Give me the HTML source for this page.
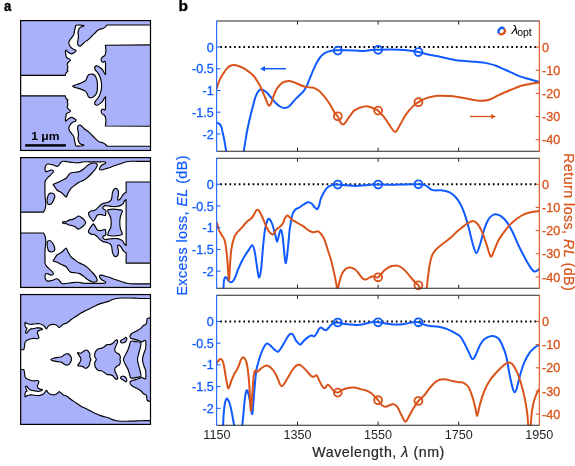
<!DOCTYPE html>
<html><head><meta charset="utf-8"><style>
html,body{margin:0;padding:0;background:#fff;}
svg{display:block;filter:blur(0.3px);font-family:"Liberation Sans",sans-serif;}
</style></head><body>
<svg width="575" height="466" viewBox="0 0 575 466">
<rect width="575" height="466" fill="#fff"/>
<text transform="translate(4.0,11.2) scale(0.92,1)" font-size="14.3" font-weight="bold" fill="#000" stroke="#000" stroke-width="0.35">a</text>
<text x="178.4" y="11.4" font-size="15.5" font-weight="bold" fill="#000" stroke="#000" stroke-width="0.35">b</text>
<defs><clipPath id="bx0"><rect x="20.65" y="20.6" width="129.85" height="129.85"/></clipPath><clipPath id="bx1"><rect x="20.65" y="157.6" width="129.85" height="129.85"/></clipPath><clipPath id="bx2"><rect x="20.65" y="294.55" width="129.85" height="129.85"/></clipPath></defs>
<g clip-path="url(#bx0)">
<rect x="20.65" y="20.6" width="129.85" height="129.85" fill="#a9b1fa"/>
<path d="M19.5,75.4L65.3,75.4C65.3,75.4 65.57,73.72 66,73C66.43,72.28 67.7,71.63 67.9,71.1C68.1,70.57 67.2,70.45 67.2,69.8C67.2,69.15 67.9,68.17 67.9,67.2C67.9,66.23 67.1,64.85 67.2,64C67.3,63.15 67.95,62.73 68.5,62.1C69.05,61.47 70.38,60.73 70.5,60.2C70.62,59.67 69.85,59.33 69.2,58.9C68.55,58.47 67.15,58.28 66.6,57.6C66.05,56.92 66.1,55.85 65.9,54.8C65.7,53.75 65.4,52.1 65.4,51.3C65.4,50.5 65.6,50 65.9,50C66.2,50 66.63,50.8 67.2,51.3C67.77,51.8 68.58,52.57 69.3,53C70.02,53.43 70.77,53.9 71.5,53.9C72.23,53.9 72.97,53.43 73.7,53C74.43,52.57 75.62,51.8 75.9,51.3C76.18,50.8 75.98,50.43 75.4,50C74.82,49.57 73.27,49.28 72.4,48.7C71.53,48.12 70.78,47.37 70.2,46.5C69.62,45.63 69.05,44.43 68.9,43.5C68.75,42.57 68.87,41.85 69.3,40.9C69.73,39.95 70.77,38.82 71.5,37.8C72.23,36.78 73.18,36.03 73.7,34.8C74.22,33.57 74.32,31.7 74.6,30.4C74.88,29.1 75.12,27.87 75.4,27C75.68,26.13 75.07,25.47 76.3,25.2C77.53,24.93 81.57,25.25 82.8,25.4C84.03,25.55 83.98,25.83 83.7,26.1C83.42,26.37 81.83,26.63 81.1,27C80.37,27.37 79.73,27.73 79.3,28.3C78.87,28.87 78.72,29.62 78.5,30.4C78.28,31.18 78,31.98 78,33C78,34.02 78.5,35.33 78.5,36.5C78.5,37.67 78.15,38.83 78,40C77.85,41.17 77.52,42.55 77.6,43.5C77.68,44.45 78.07,45.27 78.5,45.7C78.93,46.13 79.62,46.25 80.2,46.1C80.78,45.95 81.42,45.32 82,44.8C82.58,44.28 82.98,43.65 83.7,43C84.42,42.35 85.43,41.55 86.3,40.9C87.17,40.25 88.03,39.83 88.9,39.1C89.77,38.37 90.63,37.37 91.5,36.5C92.37,35.63 93.23,34.77 94.1,33.9C94.97,33.03 95.78,32.07 96.7,31.3C97.62,30.53 98.57,29.77 99.6,29.3C100.63,28.83 101.95,28.9 102.9,28.5C103.85,28.1 104.63,27.48 105.3,26.9C105.97,26.32 106.9,25 106.9,25L151.6,25L151.6,44.9L105.3,45.2C105.3,45.2 105.5,45.87 105.6,46.7C105.7,47.53 105.92,49.05 105.9,50.2C105.88,51.35 105.72,52.68 105.5,53.6C105.28,54.52 105.1,55.13 104.6,55.7C104.1,56.27 103.07,56.42 102.5,57C101.93,57.58 101.35,58.48 101.2,59.2C101.05,59.92 101.32,60.8 101.6,61.3C101.88,61.8 102.33,62.2 102.9,62.2C103.47,62.2 104.57,61.02 105,61.3C105.43,61.58 105.42,62.9 105.5,63.9C105.58,64.9 105.5,66.15 105.5,67.3C105.5,68.45 105.48,69.62 105.5,70.8C105.52,71.98 105.6,74.4 105.6,74.4C105.6,74.4 104.75,73.88 104.3,73.2C103.85,72.52 103.57,71.2 102.9,70.3C102.23,69.4 101.23,68.52 100.3,67.8C99.37,67.08 98.15,66.22 97.3,66C96.45,65.78 95.63,66.07 95.2,66.5C94.77,66.93 94.57,67.88 94.7,68.6C94.83,69.32 95.42,70 96,70.8C96.58,71.6 97.55,72.4 98.2,73.4C98.85,74.4 99.4,75.52 99.9,76.8C100.4,78.08 100.92,79.63 101.2,81.1C101.48,82.57 101.6,84.1 101.6,85.6C101.6,87.1 101.48,88.63 101.2,90.1C100.92,91.57 100.4,93.12 99.9,94.4C99.4,95.68 98.85,96.8 98.2,97.8C97.55,98.8 96.58,99.6 96,100.4C95.42,101.2 94.83,101.88 94.7,102.6C94.57,103.32 94.77,104.27 95.2,104.7C95.63,105.13 96.45,105.42 97.3,105.2C98.15,104.98 99.37,104.12 100.3,103.4C101.23,102.68 102.23,101.8 102.9,100.9C103.57,100 103.85,98.68 104.3,98C104.75,97.32 105.6,96.8 105.6,96.8C105.6,96.8 105.52,99.22 105.5,100.4C105.48,101.58 105.5,102.75 105.5,103.9C105.5,105.05 105.58,106.3 105.5,107.3C105.42,108.3 105.43,109.62 105,109.9C104.57,110.18 103.47,109 102.9,109C102.33,109 101.88,109.4 101.6,109.9C101.32,110.4 101.05,111.28 101.2,112C101.35,112.72 101.93,113.62 102.5,114.2C103.07,114.78 104.1,114.93 104.6,115.5C105.1,116.07 105.28,116.68 105.5,117.6C105.72,118.52 105.88,119.85 105.9,121C105.92,122.15 105.7,123.67 105.6,124.5C105.5,125.33 105.3,126 105.3,126L151.6,126.3L151.6,146.2L106.9,146.2C106.9,146.2 105.97,144.88 105.3,144.3C104.63,143.72 103.85,143.1 102.9,142.7C101.95,142.3 100.63,142.37 99.6,141.9C98.57,141.43 97.62,140.67 96.7,139.9C95.78,139.13 94.97,138.17 94.1,137.3C93.23,136.43 92.37,135.57 91.5,134.7C90.63,133.83 89.77,132.83 88.9,132.1C88.03,131.37 87.17,130.95 86.3,130.3C85.43,129.65 84.42,128.85 83.7,128.2C82.98,127.55 82.58,126.92 82,126.4C81.42,125.88 80.78,125.25 80.2,125.1C79.62,124.95 78.93,125.07 78.5,125.5C78.07,125.93 77.68,126.75 77.6,127.7C77.52,128.65 77.85,130.03 78,131.2C78.15,132.37 78.5,133.53 78.5,134.7C78.5,135.87 78,137.18 78,138.2C78,139.22 78.28,140.02 78.5,140.8C78.72,141.58 78.87,142.33 79.3,142.9C79.73,143.47 80.37,143.83 81.1,144.2C81.83,144.57 83.42,144.83 83.7,145.1C83.98,145.37 84.03,145.65 82.8,145.8C81.57,145.95 77.53,146.27 76.3,146C75.07,145.73 75.68,145.07 75.4,144.2C75.12,143.33 74.88,142.1 74.6,140.8C74.32,139.5 74.22,137.63 73.7,136.4C73.18,135.17 72.23,134.42 71.5,133.4C70.77,132.38 69.73,131.25 69.3,130.3C68.87,129.35 68.75,128.63 68.9,127.7C69.05,126.77 69.62,125.57 70.2,124.7C70.78,123.83 71.53,123.08 72.4,122.5C73.27,121.92 74.82,121.63 75.4,121.2C75.98,120.77 76.18,120.4 75.9,119.9C75.62,119.4 74.43,118.63 73.7,118.2C72.97,117.77 72.23,117.3 71.5,117.3C70.77,117.3 70.02,117.77 69.3,118.2C68.58,118.63 67.77,119.4 67.2,119.9C66.63,120.4 66.2,121.2 65.9,121.2C65.6,121.2 65.4,120.7 65.4,119.9C65.4,119.1 65.7,117.45 65.9,116.4C66.1,115.35 66.05,114.28 66.6,113.6C67.15,112.92 68.55,112.73 69.2,112.3C69.85,111.87 70.62,111.53 70.5,111C70.38,110.47 69.05,109.73 68.5,109.1C67.95,108.47 67.3,108.05 67.2,107.2C67.1,106.35 67.9,104.97 67.9,104C67.9,103.03 67.2,102.05 67.2,101.4C67.2,100.75 68.1,100.63 67.9,100.1C67.7,99.57 66.43,98.92 66,98.2C65.57,97.48 65.3,95.8 65.3,95.8L19.5,95.8L19.5,75.4Z" fill="#fff" stroke="#000" stroke-width="1.15" stroke-linejoin="round"/>
<path d="M73,85.9C73.65,85.47 75.98,84.9 77.6,84.3C79.22,83.7 81.32,83 82.7,82.3C84.08,81.6 85.15,81 85.9,80.1C86.65,79.2 86.67,77.82 87.2,76.9C87.73,75.98 88.23,75.07 89.1,74.6C89.97,74.13 91.42,73.93 92.4,74.1C93.38,74.27 94.25,74.6 95,75.6C95.75,76.6 96.48,78.38 96.9,80.1C97.32,81.82 97.5,83.85 97.5,85.9C97.5,87.95 97.43,90.68 96.9,92.4C96.37,94.12 95.27,95.3 94.3,96.2C93.33,97.1 92.07,97.68 91.1,97.8C90.13,97.92 89.15,97.58 88.5,96.9C87.85,96.22 87.73,94.67 87.2,93.7C86.67,92.73 86.37,91.87 85.3,91.1C84.23,90.33 82.3,89.67 80.8,89.1C79.3,88.53 77.48,88.07 76.3,87.7C75.12,87.33 74.25,87.2 73.7,86.9C73.15,86.6 72.35,86.33 73,85.9Z" fill="#a9b1fa" stroke="#000" stroke-width="1.15" stroke-linejoin="round"/>
</g>
<rect x="20.65" y="20.6" width="129.85" height="129.85" fill="none" stroke="#000" stroke-width="1.2"/>
<rect x="25.2" y="144.2" width="40.7" height="2.4" fill="#000"/>
<text transform="translate(31.2,139.9) scale(1.12,1)" font-size="10.8" font-weight="bold" fill="#000">1 μm</text>
<g clip-path="url(#bx1)">
<rect x="20.65" y="157.6" width="129.85" height="129.85" fill="#fff"/>
<path d="M19.5,156.5L151.5,156.5L151.5,161.3C151.5,161.3 145.5,161.3 143.1,161.3C140.7,161.3 139.1,161.3 137.1,161.3C135.1,161.3 132.85,161.22 131.1,161.3C129.35,161.38 128.12,161.47 126.6,161.8C125.08,162.13 123.52,162.8 122,163.3C120.48,163.8 119,164.3 117.5,164.8C116,165.3 114.37,165.8 113,166.3C111.63,166.8 110.55,167.38 109.3,167.8C108.05,168.22 106.75,168.43 105.5,168.8C104.25,169.17 102.8,169.92 101.8,170C100.8,170.08 99.75,169.8 99.5,169.3C99.25,168.8 99.8,167.75 100.3,167C100.8,166.25 101.63,165.42 102.5,164.8C103.37,164.18 105.12,163.8 105.5,163.3C105.88,162.8 105.55,162.05 104.8,161.8C104.05,161.55 102.63,161.8 101,161.8C99.37,161.8 97,161.8 95,161.8C93,161.8 90.82,161.8 89,161.8C87.18,161.8 85.92,161.63 84.1,161.8C82.28,161.97 80.1,162.68 78.1,162.8C76.1,162.92 73.85,162.67 72.1,162.5C70.35,162.33 69.1,162 67.6,161.8C66.1,161.6 64.23,161.18 63.1,161.3C61.97,161.42 61.55,161.8 60.8,162.5C60.05,163.2 59.35,164.87 58.6,165.5C57.85,166.13 57.3,166.42 56.3,166.3C55.3,166.18 53.98,165.18 52.6,164.8C51.22,164.42 49.13,163.88 48,164C46.87,164.12 46.3,164.75 45.8,165.5C45.3,166.25 45,167.5 45,168.5C45,169.5 45.3,171.05 45.8,171.5C46.3,171.95 47.13,171.45 48,171.2C48.87,170.95 50.12,170.07 51,170C51.88,169.93 53.03,170.3 53.3,170.8C53.57,171.3 53.23,172.13 52.6,173C51.97,173.87 50.52,175 49.5,176C48.48,177 47.25,178 46.5,179C45.75,180 45.25,181 45,182C44.75,183 45,182.98 45,185C45,187.02 44.92,191.58 45,194.1C45.08,196.62 45.37,198.35 45.5,200.1C45.63,201.85 45.88,203.1 45.8,204.6C45.72,206.1 45.38,207.85 45,209.1C44.62,210.35 43.5,212.1 43.5,212.1L19.5,212.1L19.5,156.5Z" fill="#a9b1fa" stroke="#000" stroke-width="1.15" stroke-linejoin="round"/>
<path d="M19.5,288.6L151.5,288.6L151.5,283.8C151.5,283.8 145.5,283.8 143.1,283.8C140.7,283.8 139.1,283.8 137.1,283.8C135.1,283.8 132.85,283.88 131.1,283.8C129.35,283.72 128.12,283.63 126.6,283.3C125.08,282.97 123.52,282.3 122,281.8C120.48,281.3 119,280.8 117.5,280.3C116,279.8 114.37,279.3 113,278.8C111.63,278.3 110.55,277.72 109.3,277.3C108.05,276.88 106.75,276.67 105.5,276.3C104.25,275.93 102.8,275.18 101.8,275.1C100.8,275.02 99.75,275.3 99.5,275.8C99.25,276.3 99.8,277.35 100.3,278.1C100.8,278.85 101.63,279.68 102.5,280.3C103.37,280.92 105.12,281.3 105.5,281.8C105.88,282.3 105.55,283.05 104.8,283.3C104.05,283.55 102.63,283.3 101,283.3C99.37,283.3 97,283.3 95,283.3C93,283.3 90.82,283.3 89,283.3C87.18,283.3 85.92,283.47 84.1,283.3C82.28,283.13 80.1,282.42 78.1,282.3C76.1,282.18 73.85,282.43 72.1,282.6C70.35,282.77 69.1,283.1 67.6,283.3C66.1,283.5 64.23,283.92 63.1,283.8C61.97,283.68 61.55,283.3 60.8,282.6C60.05,281.9 59.35,280.23 58.6,279.6C57.85,278.97 57.3,278.68 56.3,278.8C55.3,278.92 53.98,279.92 52.6,280.3C51.22,280.68 49.13,281.22 48,281.1C46.87,280.98 46.3,280.35 45.8,279.6C45.3,278.85 45,277.6 45,276.6C45,275.6 45.3,274.05 45.8,273.6C46.3,273.15 47.13,273.65 48,273.9C48.87,274.15 50.12,275.03 51,275.1C51.88,275.17 53.03,274.8 53.3,274.3C53.57,273.8 53.23,272.97 52.6,272.1C51.97,271.23 50.52,270.1 49.5,269.1C48.48,268.1 47.25,267.1 46.5,266.1C45.75,265.1 45.25,264.1 45,263.1C44.75,262.1 45,262.12 45,260.1C45,258.08 44.92,253.52 45,251C45.08,248.48 45.37,246.75 45.5,245C45.63,243.25 45.88,242 45.8,240.5C45.72,239 45.38,237.25 45,236C44.62,234.75 43.5,233 43.5,233L19.5,233L19.5,288.6Z" fill="#a9b1fa" stroke="#000" stroke-width="1.15" stroke-linejoin="round"/>
<path d="M126.1,182L151.5,182L151.5,263.1L126.1,263.1L126.2,252.8C126.2,252.8 125.07,252.33 124.5,251.9C123.93,251.47 123.37,250.98 122.8,250.2C122.23,249.42 121.75,248.05 121.1,247.2C120.45,246.35 119.48,245.32 118.9,245.1C118.32,244.88 117.73,245.27 117.6,245.9C117.47,246.53 117.95,247.82 118.1,248.9C118.25,249.98 118.58,251.32 118.5,252.4C118.42,253.48 118.1,254.68 117.6,255.4C117.1,256.12 116.13,256.7 115.5,256.7C114.87,256.7 114.3,256.12 113.8,255.4C113.3,254.68 112.78,253.33 112.5,252.4C112.22,251.47 112.25,250.8 112.1,249.8C111.95,248.8 111.9,247.33 111.6,246.4C111.3,245.47 110.87,244.78 110.3,244.2C109.73,243.62 108.98,243.25 108.2,242.9C107.42,242.55 106.47,242.32 105.6,242.1C104.73,241.88 103.78,241.9 103,241.6C102.22,241.3 101.62,240.87 100.9,240.3C100.18,239.73 99.35,238.83 98.7,238.2C98.05,237.57 97.57,237 97,236.5C96.43,236 95.87,235.57 95.3,235.2C94.73,234.83 94.25,234.45 93.6,234.3C92.95,234.15 92.12,234.52 91.4,234.3C90.68,234.08 89.8,233.43 89.3,233C88.8,232.57 88.4,232.33 88.4,231.7C88.4,231.07 88.87,230.05 89.3,229.2C89.73,228.35 90.43,227.4 91,226.6C91.57,225.8 92.27,224.83 92.7,224.4C93.13,223.97 93.17,223.63 93.6,224C94.03,224.37 94.73,225.67 95.3,226.6C95.87,227.53 96.43,228.95 97,229.6C97.57,230.25 97.98,230.35 98.7,230.5C99.42,230.65 100.37,230.65 101.3,230.5C102.23,230.35 103.58,229.68 104.3,229.6C105.02,229.52 105.38,229.65 105.6,230C105.82,230.35 105.53,231.05 105.6,231.7C105.67,232.35 106.07,233.32 106,233.9C105.93,234.48 105.62,234.85 105.2,235.2C104.78,235.55 103.93,235.65 103.5,236C103.07,236.35 102.6,236.87 102.6,237.3C102.6,237.73 103.07,238.23 103.5,238.6C103.93,238.97 104.42,239.42 105.2,239.5C105.98,239.58 106.98,239.25 108.2,239.1C109.42,238.95 111.07,238.68 112.5,238.6C113.93,238.52 115.52,238.45 116.8,238.6C118.08,238.75 119.2,239.07 120.2,239.5C121.2,239.93 122.08,240.42 122.8,241.2C123.52,241.98 123.95,243.48 124.5,244.2C125.05,244.92 126.1,245.5 126.1,245.5L126.1,199.6C126.1,199.6 125.05,200.18 124.5,200.9C123.95,201.62 123.52,203.12 122.8,203.9C122.08,204.68 121.2,205.17 120.2,205.6C119.2,206.03 118.08,206.35 116.8,206.5C115.52,206.65 113.93,206.58 112.5,206.5C111.07,206.42 109.42,206.15 108.2,206C106.98,205.85 105.98,205.52 105.2,205.6C104.42,205.68 103.93,206.13 103.5,206.5C103.07,206.87 102.6,207.37 102.6,207.8C102.6,208.23 103.07,208.75 103.5,209.1C103.93,209.45 104.78,209.55 105.2,209.9C105.62,210.25 105.93,210.62 106,211.2C106.07,211.78 105.67,212.75 105.6,213.4C105.53,214.05 105.82,214.75 105.6,215.1C105.38,215.45 105.02,215.58 104.3,215.5C103.58,215.42 102.23,214.75 101.3,214.6C100.37,214.45 99.42,214.45 98.7,214.6C97.98,214.75 97.57,214.85 97,215.5C96.43,216.15 95.87,217.57 95.3,218.5C94.73,219.43 94.03,220.73 93.6,221.1C93.17,221.47 93.13,221.13 92.7,220.7C92.27,220.27 91.57,219.3 91,218.5C90.43,217.7 89.73,216.75 89.3,215.9C88.87,215.05 88.4,214.03 88.4,213.4C88.4,212.77 88.8,212.53 89.3,212.1C89.8,211.67 90.68,211.02 91.4,210.8C92.12,210.58 92.95,210.95 93.6,210.8C94.25,210.65 94.73,210.27 95.3,209.9C95.87,209.53 96.43,209.1 97,208.6C97.57,208.1 98.05,207.53 98.7,206.9C99.35,206.27 100.18,205.37 100.9,204.8C101.62,204.23 102.22,203.8 103,203.5C103.78,203.2 104.73,203.22 105.6,203C106.47,202.78 107.42,202.55 108.2,202.2C108.98,201.85 109.73,201.48 110.3,200.9C110.87,200.32 111.3,199.63 111.6,198.7C111.9,197.77 111.95,196.3 112.1,195.3C112.25,194.3 112.22,193.63 112.5,192.7C112.78,191.77 113.3,190.42 113.8,189.7C114.3,188.98 114.87,188.4 115.5,188.4C116.13,188.4 117.1,188.98 117.6,189.7C118.1,190.42 118.42,191.62 118.5,192.7C118.58,193.78 118.25,195.12 118.1,196.2C117.95,197.28 117.47,198.57 117.6,199.2C117.73,199.83 118.32,200.22 118.9,200C119.48,199.78 120.45,198.75 121.1,197.9C121.75,197.05 122.23,195.68 122.8,194.9C123.37,194.12 123.93,193.63 124.5,193.2C125.07,192.77 126.2,192.3 126.2,192.3L126.1,182Z" fill="#a9b1fa" stroke="#000" stroke-width="1.15" stroke-linejoin="round"/>
<path d="M53.3,184.3C53.8,183.8 55.72,183.43 57.1,182.8C58.48,182.17 60.1,181.25 61.6,180.5C63.1,179.75 64.98,179.17 66.1,178.3C67.22,177.43 67.55,176.18 68.3,175.3C69.05,174.42 69.47,173.5 70.6,173C71.73,172.5 73.6,172.55 75.1,172.3C76.6,172.05 78.1,172.13 79.6,171.5C81.1,170.87 82.78,169.5 84.1,168.5C85.42,167.5 86.18,166.37 87.5,165.5C88.82,164.63 90.62,163.67 92,163.3C93.38,162.93 94.92,163.05 95.8,163.3C96.68,163.55 97.3,163.93 97.3,164.8C97.3,165.67 96.68,167.13 95.8,168.5C94.92,169.87 93.38,171.5 92,173C90.62,174.5 89,176.25 87.5,177.5C86,178.75 84.32,179.75 83,180.5C81.68,181.25 80.92,181.25 79.6,182C78.28,182.75 76.6,183.87 75.1,185C73.6,186.13 71.85,187.28 70.6,188.8C69.35,190.32 68.35,192.72 67.6,194.1C66.85,195.48 66.85,197.1 66.1,197.1C65.35,197.1 64.1,194.98 63.1,194.1C62.1,193.22 61.1,192.43 60.1,191.8C59.1,191.17 57.85,190.93 57.1,190.3C56.35,189.67 56.1,188.75 55.6,188C55.1,187.25 54.48,186.42 54.1,185.8C53.72,185.18 52.8,184.8 53.3,184.3Z" fill="#a9b1fa" stroke="#000" stroke-width="1.15" stroke-linejoin="round"/>
<path d="M53.3,260.8C53.8,261.3 55.72,261.67 57.1,262.3C58.48,262.93 60.1,263.85 61.6,264.6C63.1,265.35 64.98,265.93 66.1,266.8C67.22,267.67 67.55,268.92 68.3,269.8C69.05,270.68 69.47,271.6 70.6,272.1C71.73,272.6 73.6,272.55 75.1,272.8C76.6,273.05 78.1,272.97 79.6,273.6C81.1,274.23 82.78,275.6 84.1,276.6C85.42,277.6 86.18,278.73 87.5,279.6C88.82,280.47 90.62,281.43 92,281.8C93.38,282.17 94.92,282.05 95.8,281.8C96.68,281.55 97.3,281.17 97.3,280.3C97.3,279.43 96.68,277.97 95.8,276.6C94.92,275.23 93.38,273.6 92,272.1C90.62,270.6 89,268.85 87.5,267.6C86,266.35 84.32,265.35 83,264.6C81.68,263.85 80.92,263.85 79.6,263.1C78.28,262.35 76.6,261.23 75.1,260.1C73.6,258.97 71.85,257.82 70.6,256.3C69.35,254.78 68.35,252.38 67.6,251C66.85,249.62 66.85,248 66.1,248C65.35,248 64.1,250.12 63.1,251C62.1,251.88 61.1,252.67 60.1,253.3C59.1,253.93 57.85,254.17 57.1,254.8C56.35,255.43 56.1,256.35 55.6,257.1C55.1,257.85 54.48,258.68 54.1,259.3C53.72,259.92 52.8,260.3 53.3,260.8Z" fill="#a9b1fa" stroke="#000" stroke-width="1.15" stroke-linejoin="round"/>
<path d="M48.8,194.1C49.68,193.22 51.6,193.05 52.6,193.3C53.6,193.55 54.57,194.6 54.8,195.6C55.03,196.6 54.5,198.05 54,199.3C53.5,200.55 52.55,202.22 51.8,203.1C51.05,203.98 50.25,204.6 49.5,204.6C48.75,204.6 47.67,204.1 47.3,203.1C46.93,202.1 47.05,200.1 47.3,198.6C47.55,197.1 47.92,194.98 48.8,194.1Z" fill="#a9b1fa" stroke="#000" stroke-width="1.15" stroke-linejoin="round"/>
<path d="M48.8,251C49.68,251.88 51.6,252.05 52.6,251.8C53.6,251.55 54.57,250.5 54.8,249.5C55.03,248.5 54.5,247.05 54,245.8C53.5,244.55 52.55,242.88 51.8,242C51.05,241.12 50.25,240.5 49.5,240.5C48.75,240.5 47.67,241 47.3,242C46.93,243 47.05,245 47.3,246.5C47.55,248 47.92,250.12 48.8,251Z" fill="#a9b1fa" stroke="#000" stroke-width="1.15" stroke-linejoin="round"/>
<path d="M62.4,222.55C62.4,222.2 63.33,221.62 63.9,221.5C64.47,221.38 65.25,221.9 65.8,221.8C66.35,221.7 66.55,221.22 67.2,220.9C67.85,220.58 68.8,220.15 69.7,219.9C70.6,219.65 71.63,219.72 72.6,219.4C73.57,219.08 74.53,218.57 75.5,218C76.47,217.43 77.43,216.08 78.4,216C79.37,215.92 80.33,216.85 81.3,217.5C82.27,218.15 83.48,219.06 84.2,219.9C84.92,220.74 85.6,221.67 85.6,222.55C85.6,223.43 84.92,224.36 84.2,225.2C83.48,226.04 82.27,226.95 81.3,227.6C80.33,228.25 79.37,229.18 78.4,229.1C77.43,229.02 76.47,227.67 75.5,227.1C74.53,226.53 73.57,226.02 72.6,225.7C71.63,225.38 70.6,225.45 69.7,225.2C68.8,224.95 67.85,224.52 67.2,224.2C66.55,223.88 66.35,223.4 65.8,223.3C65.25,223.2 64.47,223.72 63.9,223.6C63.33,223.47 62.4,222.9 62.4,222.55Z" fill="#a9b1fa" stroke="#000" stroke-width="1.15" stroke-linejoin="round"/>
<path d="M111.2,222.55C111.2,221.07 111.08,219.34 110.8,218.1C110.52,216.86 109.93,216.03 109.5,215.1C109.07,214.17 108.48,213.37 108.2,212.5C107.92,211.63 107.52,210.4 107.8,209.9C108.08,209.4 108.97,209.63 109.9,209.5C110.83,209.37 112.25,209.1 113.4,209.1C114.55,209.1 115.67,209.37 116.8,209.5C117.93,209.63 119.27,209.68 120.2,209.9C121.13,210.12 122.12,210.37 122.4,210.8C122.68,211.23 122.12,211.87 121.9,212.5C121.68,213.13 121.38,213.75 121.1,214.6C120.82,215.45 120.42,216.27 120.2,217.6C119.98,218.93 119.8,220.9 119.8,222.55C119.8,224.2 119.98,226.18 120.2,227.5C120.42,228.83 120.82,229.65 121.1,230.5C121.38,231.35 121.68,231.97 121.9,232.6C122.12,233.23 122.68,233.87 122.4,234.3C122.12,234.73 121.13,234.98 120.2,235.2C119.27,235.42 117.93,235.47 116.8,235.6C115.67,235.73 114.55,236 113.4,236C112.25,236 110.83,235.73 109.9,235.6C108.97,235.47 108.08,235.7 107.8,235.2C107.52,234.7 107.92,233.47 108.2,232.6C108.48,231.73 109.07,230.93 109.5,230C109.93,229.07 110.52,228.24 110.8,227C111.08,225.76 111.2,224.03 111.2,222.55Z" fill="#a9b1fa" stroke="#000" stroke-width="1.15" stroke-linejoin="round"/>
</g>
<rect x="20.65" y="157.6" width="129.85" height="129.85" fill="none" stroke="#000" stroke-width="1.2"/>
<g clip-path="url(#bx2)">
<rect x="20.65" y="294.55" width="129.85" height="129.85" fill="#a9b1fa"/>
<path d="M19.5,349.7L23.8,349.7C23.8,349.7 24.42,347.15 24.6,346C24.78,344.85 24.68,343.62 24.9,342.8C25.12,341.98 25.33,341.62 25.9,341.1C26.47,340.58 27.43,340.1 28.3,339.7C29.17,339.3 30.17,338.93 31.1,338.7C32.03,338.47 32.97,338.3 33.9,338.3C34.83,338.3 35.88,338.75 36.7,338.7C37.52,338.65 38.52,338.47 38.8,338C39.08,337.53 38.63,336.72 38.4,335.9C38.17,335.08 37.45,333.92 37.4,333.1C37.35,332.28 37.63,331.52 38.1,331C38.57,330.48 39.5,330.23 40.2,330C40.9,329.77 42.07,329.83 42.3,329.6C42.53,329.37 42.07,328.88 41.6,328.6C41.13,328.32 40.32,328.02 39.5,327.9C38.68,327.78 37.63,327.78 36.7,327.9C35.77,328.02 34.83,328.43 33.9,328.6C32.97,328.77 31.92,328.62 31.1,328.9C30.28,329.18 29.68,329.67 29,330.3C28.32,330.93 27.52,332.23 27,332.7C26.48,333.17 26.13,333.27 25.9,333.1C25.67,332.93 25.48,332.28 25.6,331.7C25.72,331.12 26.37,330.18 26.6,329.6C26.83,329.02 27.12,328.55 27,328.2C26.88,327.85 26.2,327.85 25.9,327.5C25.6,327.15 25.37,326.68 25.2,326.1C25.03,325.52 24.9,324.63 24.9,324C24.9,323.37 24.92,322.42 25.2,322.3C25.48,322.18 26.08,323.02 26.6,323.3C27.12,323.58 27.55,323.82 28.3,324C29.05,324.18 30.17,324.4 31.1,324.4C32.03,324.4 32.97,324.12 33.9,324C34.83,323.88 35.77,323.75 36.7,323.7C37.63,323.65 38.57,323.53 39.5,323.7C40.43,323.87 41.5,324.3 42.3,324.7C43.1,325.1 43.62,325.4 44.3,326.1C44.98,326.8 45.82,328.78 46.4,328.9C46.98,329.02 47.22,327.43 47.8,326.8C48.38,326.17 49.08,325.5 49.9,325.1C50.72,324.7 51.77,324.47 52.7,324.4C53.63,324.33 54.68,324.42 55.5,324.7C56.32,324.98 57.02,325.63 57.6,326.1C58.18,326.57 58.43,327.47 59,327.5C59.57,327.53 60.3,326.83 61,326.3C61.7,325.77 62.15,324.9 63.2,324.3C64.25,323.7 65.95,323.5 67.3,322.7C68.65,321.9 69.82,320.57 71.3,319.5C72.78,318.43 74.58,317.38 76.2,316.3C77.82,315.22 79.38,313.95 81,313C82.62,312.05 84.28,311.4 85.9,310.6C87.52,309.8 89.08,309.02 90.7,308.2C92.32,307.38 93.98,306.47 95.6,305.7C97.22,304.93 98.92,304.13 100.4,303.6C101.88,303.07 103.15,302.87 104.5,302.5C105.85,302.13 107.28,301.85 108.5,301.4C109.72,300.95 110.45,300.28 111.8,299.8C113.15,299.32 114.98,298.8 116.6,298.5C118.22,298.2 119.62,298.08 121.5,298C123.38,297.92 125.75,297.98 127.9,298C130.05,298.02 132.23,298.02 134.4,298.1C136.57,298.18 138.05,298.43 140.9,298.5C143.75,298.57 151.5,298.5 151.5,298.5L151.5,317.9C151.5,317.9 148.13,317.77 147.3,318.7C146.47,319.63 147.03,322.42 146.5,323.5C145.97,324.58 144.63,324.87 144.1,325.2C143.57,325.53 143.85,324.97 143.3,325.5C142.75,326.03 141.8,327.55 140.8,328.4C139.8,329.25 138.45,329.95 137.3,330.6C136.15,331.25 134.9,331.73 133.9,332.3C132.9,332.87 131.95,333.35 131.3,334C130.65,334.65 130.13,335.55 130,336.2C129.87,336.85 130.13,337.48 130.5,337.9C130.87,338.32 131.35,338.42 132.2,338.7C133.05,338.98 134.47,339.27 135.6,339.6C136.73,339.93 138,340.32 139,340.7C140,341.08 140.88,341.83 141.6,341.9C142.32,341.97 142.65,341.33 143.3,341.1C143.95,340.87 145.07,339.9 145.5,340.5C145.93,341.1 145.9,343.28 145.9,344.7C145.9,346.12 145.78,347.7 145.5,349C145.22,350.3 144.63,351.2 144.2,352.5C143.77,353.8 143.18,355.62 142.9,356.8C142.62,357.98 142.5,358.67 142.5,359.6C142.5,360.53 142.62,361.22 142.9,362.4C143.18,363.58 143.77,365.4 144.2,366.7C144.63,368 145.22,368.9 145.5,370.2C145.78,371.5 145.9,373.08 145.9,374.5C145.9,375.92 145.93,378.1 145.5,378.7C145.07,379.3 143.95,378.33 143.3,378.1C142.65,377.87 142.32,377.23 141.6,377.3C140.88,377.37 140,378.12 139,378.5C138,378.88 136.73,379.27 135.6,379.6C134.47,379.93 133.05,380.22 132.2,380.5C131.35,380.78 130.87,380.88 130.5,381.3C130.13,381.72 129.87,382.35 130,383C130.13,383.65 130.65,384.55 131.3,385.2C131.95,385.85 132.9,386.33 133.9,386.9C134.9,387.47 136.15,387.95 137.3,388.6C138.45,389.25 139.8,389.95 140.8,390.8C141.8,391.65 142.75,393.17 143.3,393.7C143.85,394.23 143.57,393.67 144.1,394C144.63,394.33 145.97,394.62 146.5,395.7C147.03,396.78 146.47,399.57 147.3,400.5C148.13,401.43 151.5,401.3 151.5,401.3L151.5,420.7C151.5,420.7 143.75,420.63 140.9,420.7C138.05,420.77 136.57,421.02 134.4,421.1C132.23,421.18 130.05,421.18 127.9,421.2C125.75,421.22 123.38,421.28 121.5,421.2C119.62,421.12 118.22,421 116.6,420.7C114.98,420.4 113.15,419.88 111.8,419.4C110.45,418.92 109.72,418.25 108.5,417.8C107.28,417.35 105.85,417.07 104.5,416.7C103.15,416.33 101.88,416.13 100.4,415.6C98.92,415.07 97.22,414.27 95.6,413.5C93.98,412.73 92.32,411.82 90.7,411C89.08,410.18 87.52,409.4 85.9,408.6C84.28,407.8 82.62,407.15 81,406.2C79.38,405.25 77.82,403.98 76.2,402.9C74.58,401.82 72.78,400.77 71.3,399.7C69.82,398.63 68.65,397.3 67.3,396.5C65.95,395.7 64.25,395.5 63.2,394.9C62.15,394.3 61.7,393.43 61,392.9C60.3,392.37 59.57,391.67 59,391.7C58.43,391.73 58.18,392.63 57.6,393.1C57.02,393.57 56.32,394.22 55.5,394.5C54.68,394.78 53.63,394.87 52.7,394.8C51.77,394.73 50.72,394.5 49.9,394.1C49.08,393.7 48.38,393.03 47.8,392.4C47.22,391.77 46.98,390.18 46.4,390.3C45.82,390.42 44.98,392.4 44.3,393.1C43.62,393.8 43.1,394.1 42.3,394.5C41.5,394.9 40.43,395.33 39.5,395.5C38.57,395.67 37.63,395.55 36.7,395.5C35.77,395.45 34.83,395.32 33.9,395.2C32.97,395.08 32.03,394.8 31.1,394.8C30.17,394.8 29.05,395.02 28.3,395.2C27.55,395.38 27.12,395.62 26.6,395.9C26.08,396.18 25.48,397.02 25.2,396.9C24.92,396.78 24.9,395.83 24.9,395.2C24.9,394.57 25.03,393.68 25.2,393.1C25.37,392.52 25.6,392.05 25.9,391.7C26.2,391.35 26.88,391.35 27,391C27.12,390.65 26.83,390.18 26.6,389.6C26.37,389.02 25.72,388.08 25.6,387.5C25.48,386.92 25.67,386.27 25.9,386.1C26.13,385.93 26.48,386.03 27,386.5C27.52,386.97 28.32,388.27 29,388.9C29.68,389.53 30.28,390.02 31.1,390.3C31.92,390.58 32.97,390.43 33.9,390.6C34.83,390.77 35.77,391.18 36.7,391.3C37.63,391.42 38.68,391.42 39.5,391.3C40.32,391.18 41.13,390.88 41.6,390.6C42.07,390.32 42.53,389.83 42.3,389.6C42.07,389.37 40.9,389.43 40.2,389.2C39.5,388.97 38.57,388.72 38.1,388.2C37.63,387.68 37.35,386.92 37.4,386.1C37.45,385.28 38.17,384.12 38.4,383.3C38.63,382.48 39.08,381.67 38.8,381.2C38.52,380.73 37.52,380.55 36.7,380.5C35.88,380.45 34.83,380.9 33.9,380.9C32.97,380.9 32.03,380.73 31.1,380.5C30.17,380.27 29.17,379.9 28.3,379.5C27.43,379.1 26.47,378.62 25.9,378.1C25.33,377.58 25.12,377.22 24.9,376.4C24.68,375.58 24.78,374.35 24.6,373.2C24.42,372.05 23.8,369.5 23.8,369.5L19.5,369.5L19.5,349.7Z" fill="#fff" stroke="#000" stroke-width="1.15" stroke-linejoin="round"/>
<path d="M130.9,341.2C131.9,340.68 133.95,341.33 135.6,341.6C137.25,341.87 140.02,341.85 140.8,342.8C141.58,343.75 140.6,345.68 140.3,347.3C140,348.92 139.43,350.78 139,352.5C138.57,354.22 137.95,356.42 137.7,357.6C137.45,358.78 137.5,358.93 137.5,359.6C137.5,360.27 137.45,360.42 137.7,361.6C137.95,362.78 138.57,364.98 139,366.7C139.43,368.42 140,370.28 140.3,371.9C140.6,373.52 141.58,375.45 140.8,376.4C140.02,377.35 137.25,377.33 135.6,377.6C133.95,377.87 131.9,378.52 130.9,378C129.9,377.48 130.03,375.8 129.6,374.5C129.17,373.2 128.87,371.63 128.3,370.2C127.73,368.77 126.92,367.33 126.2,365.9C125.48,364.47 124.43,362.65 124,361.6C123.57,360.55 123.6,360.27 123.6,359.6C123.6,358.93 123.57,358.65 124,357.6C124.43,356.55 125.48,354.73 126.2,353.3C126.92,351.87 127.73,350.43 128.3,349C128.87,347.57 129.17,346 129.6,344.7C130.03,343.4 129.9,341.72 130.9,341.2Z" fill="#a9b1fa" stroke="#000" stroke-width="1.15" stroke-linejoin="round"/>
<path d="M120.6,340.9C120.85,340.47 121.73,339.97 122.3,339.6C122.87,339.23 123.43,339.07 124,338.7C124.57,338.33 125.23,337.47 125.7,337.4C126.17,337.33 126.72,337.72 126.8,338.3C126.88,338.88 126.6,340.18 126.2,340.9C125.8,341.62 125.05,342.25 124.4,342.6C123.75,342.95 122.9,343.07 122.3,343C121.7,342.93 121.08,342.55 120.8,342.2C120.52,341.85 120.35,341.33 120.6,340.9Z" fill="#a9b1fa" stroke="#000" stroke-width="1.15" stroke-linejoin="round"/>
<path d="M120.6,378.3C120.85,378.73 121.73,379.23 122.3,379.6C122.87,379.97 123.43,380.13 124,380.5C124.57,380.87 125.23,381.73 125.7,381.8C126.17,381.87 126.72,381.48 126.8,380.9C126.88,380.32 126.6,379.02 126.2,378.3C125.8,377.58 125.05,376.95 124.4,376.6C123.75,376.25 122.9,376.13 122.3,376.2C121.7,376.27 121.08,376.65 120.8,377C120.52,377.35 120.35,377.87 120.6,378.3Z" fill="#a9b1fa" stroke="#000" stroke-width="1.15" stroke-linejoin="round"/>
<path d="M50.8,359.6C50.8,359.15 52.22,358.57 53.4,358.2C54.58,357.83 56.52,357.63 57.9,357.4C59.28,357.17 60.63,357.23 61.7,356.8C62.77,356.37 63.43,355.32 64.3,354.8C65.17,354.28 66.03,353.72 66.9,353.7C67.77,353.68 68.8,354.12 69.5,354.7C70.2,355.28 70.78,356.38 71.1,357.2C71.42,358.02 71.47,358.78 71.4,359.6C71.33,360.42 71.08,361.33 70.7,362.1C70.32,362.87 69.73,363.68 69.1,364.2C68.47,364.72 67.7,365.18 66.9,365.2C66.1,365.22 65.17,364.77 64.3,364.3C63.43,363.83 62.77,362.85 61.7,362.4C60.63,361.95 59.28,361.85 57.9,361.6C56.52,361.35 54.58,361.23 53.4,360.9C52.22,360.57 50.8,360.05 50.8,359.6Z" fill="#a9b1fa" stroke="#000" stroke-width="1.15" stroke-linejoin="round"/>
<path d="M77.5,352.7C77.77,352.33 79.63,353.47 80.7,353.2C81.77,352.93 83,351.63 83.9,351.1C84.8,350.57 85.38,350 86.1,350C86.82,350 87.58,350.47 88.2,351.1C88.82,351.73 89.53,352.82 89.8,353.8C90.07,354.78 89.62,356.03 89.8,357C89.98,357.97 90.9,358.72 90.9,359.6C90.9,360.48 90.07,361.4 89.8,362.3C89.53,363.2 89.73,364.1 89.3,365C88.87,365.9 87.92,367.17 87.2,367.7C86.48,368.23 85.72,368.38 85,368.2C84.28,368.02 83.7,366.95 82.9,366.6C82.1,366.25 81.07,366.27 80.2,366.1C79.33,365.93 77.88,366.05 77.7,365.6C77.52,365.15 78.6,364.22 79.1,363.4C79.6,362.58 80.43,361.58 80.7,360.7C80.97,359.82 80.97,358.98 80.7,358.1C80.43,357.22 79.63,356.3 79.1,355.4C78.57,354.5 77.23,353.07 77.5,352.7Z" fill="#a9b1fa" stroke="#000" stroke-width="1.15" stroke-linejoin="round"/>
<path d="M95.2,352.2C95.73,350.95 96.92,349.53 97.9,348.9C98.88,348.27 100.03,348.75 101.1,348.4C102.17,348.05 103.32,347.43 104.3,346.8C105.28,346.17 106.1,344.97 107,344.6C107.9,344.23 108.8,344.77 109.7,344.6C110.6,344.43 111.6,344.13 112.4,343.6C113.2,343.07 113.8,342.03 114.5,341.4C115.2,340.77 116.07,339.8 116.6,339.8C117.13,339.8 117.7,340.6 117.7,341.4C117.7,342.2 117.05,343.52 116.6,344.6C116.15,345.68 115.27,346.82 115,347.9C114.73,348.98 114.63,350.22 115,351.1C115.37,351.98 116.48,352.67 117.2,353.2C117.92,353.73 118.77,353.58 119.3,354.3C119.83,355.02 120.3,356.62 120.4,357.5C120.5,358.38 119.9,358.9 119.9,359.6C119.9,360.3 120.5,360.82 120.4,361.7C120.3,362.58 119.83,364.18 119.3,364.9C118.77,365.62 117.92,365.47 117.2,366C116.48,366.53 115.37,367.22 115,368.1C114.63,368.98 114.73,370.22 115,371.3C115.27,372.38 116.15,373.52 116.6,374.6C117.05,375.68 117.7,377 117.7,377.8C117.7,378.6 117.13,379.4 116.6,379.4C116.07,379.4 115.2,378.43 114.5,377.8C113.8,377.17 113.2,376.13 112.4,375.6C111.6,375.07 110.6,374.77 109.7,374.6C108.8,374.43 107.9,374.97 107,374.6C106.1,374.23 105.28,373.03 104.3,372.4C103.32,371.77 102.17,371.15 101.1,370.8C100.03,370.45 98.88,370.93 97.9,370.3C96.92,369.67 95.65,367.57 95.2,367C94.75,366.43 95.28,367.6 95.2,366.9C95.12,366.2 94.52,364.02 94.7,362.8C94.88,361.58 96.3,360.67 96.3,359.6C96.3,358.53 94.88,357.63 94.7,356.4C94.52,355.17 94.67,353.45 95.2,352.2Z" fill="#a9b1fa" stroke="#000" stroke-width="1.15" stroke-linejoin="round"/>
</g>
<rect x="20.65" y="294.55" width="129.85" height="129.85" fill="none" stroke="#000" stroke-width="1.2"/>
<defs>
<clipPath id="c0"><rect x="216.9" y="21" width="322.4" height="130.3"/></clipPath>
<clipPath id="c1"><rect x="216.9" y="158.2" width="322.4" height="130.3"/></clipPath>
<clipPath id="c2"><rect x="216.9" y="295.4" width="322.4" height="130.3"/></clipPath>
</defs>
<line x1="220.25" y1="47.06" x2="536.5" y2="47.06" stroke="#000" stroke-width="1.9" stroke-dasharray="1.7 2.92"/>
<g clip-path="url(#c0)" fill="none" stroke-width="2" stroke-linejoin="round" stroke-linecap="round">
<path d="M216.7,123.1C217.05,123.15 218.05,122.82 218.8,123.4C219.55,123.98 220.53,124.98 221.2,126.6C221.87,128.22 222.25,130.68 222.8,133.1C223.35,135.52 223.95,138.15 224.5,141.1C225.05,144.05 225.52,147.32 226.1,150.8C226.68,154.28 226.85,157.47 228,162C229.15,166.53 231.33,175.33 233,178C234.67,180.67 236.5,180.67 238,178C239.5,175.33 241.03,166.53 242,162C242.97,157.47 243.23,154.28 243.8,150.8C244.37,147.32 244.87,144.32 245.4,141.1C245.93,137.88 246.33,134.98 247,131.5C247.67,128.02 248.47,124.23 249.4,120.2C250.33,116.17 251.53,111.32 252.6,107.3C253.67,103.28 254.73,98.9 255.8,96.1C256.87,93.3 257.92,91.57 259,90.5C260.08,89.43 261.05,89.4 262.3,89.7C263.55,90 265.05,91 266.5,92.3C267.95,93.6 269.5,95.75 271,97.5C272.5,99.25 274,101.3 275.5,102.8C277,104.3 278.5,105.63 280,106.5C281.5,107.37 283,108 284.5,108C286,108 287.5,107.62 289,106.5C290.5,105.38 292.17,102.78 293.5,101.3C294.83,99.82 295.83,98.78 297,97.6C298.17,96.42 299.47,95.2 300.5,94.2C301.53,93.2 302.22,92.83 303.2,91.6C304.18,90.37 305.5,88.5 306.4,86.8C307.3,85.1 307.88,83.18 308.6,81.4C309.32,79.62 309.82,78.23 310.7,76.1C311.58,73.97 312.83,70.93 313.9,68.6C314.97,66.27 316.08,63.95 317.1,62.1C318.12,60.25 318.8,58.97 320,57.5C321.2,56.03 322.4,54.42 324.3,53.3C326.2,52.18 329.15,51.3 331.4,50.8C333.65,50.3 335.2,50.38 337.8,50.3C340.4,50.22 344.05,50.25 347,50.3C349.95,50.35 352.67,50.5 355.5,50.6C358.33,50.7 361.42,51 364,50.9C366.58,50.8 368.65,50.2 371,50C373.35,49.8 374.9,49.78 378.1,49.7C381.3,49.62 385.83,49.45 390.2,49.5C394.57,49.55 399.6,49.58 404.3,50C409,50.42 414.62,51.3 418.4,52C422.18,52.7 423.4,53.4 427,54.2C430.6,55 436.22,56.02 440,56.8C443.78,57.58 446.75,58.3 449.7,58.9C452.65,59.5 454.88,60.02 457.7,60.4C460.52,60.78 463.63,60.98 466.6,61.2C469.57,61.42 472.77,61.47 475.5,61.7C478.23,61.93 480.63,62.23 483,62.6C485.37,62.97 487.53,63.37 489.7,63.9C491.87,64.43 493.93,65.05 496,65.8C498.07,66.55 499.6,67.3 502.1,68.4C504.6,69.5 508.05,71.07 511,72.4C513.95,73.73 516.8,75.29 519.8,76.4C522.8,77.51 525.75,78.12 529,79.05C532.25,79.98 537.58,81.51 539.3,82" stroke="#0f5bff"/>
<path d="M216.6,88.8C216.73,88.3 216.8,87.45 217.4,85.8C218,84.15 219.27,80.87 220.2,78.9C221.13,76.93 221.97,75.63 223,74C224.03,72.37 225.25,70.43 226.4,69.1C227.55,67.77 228.62,66.68 229.9,66C231.18,65.32 232.7,65 234.1,65C235.5,65 236.92,65.55 238.3,66C239.68,66.45 241.02,67 242.4,67.7C243.78,68.4 245.2,69.27 246.6,70.2C248,71.13 249.4,72.07 250.8,73.3C252.2,74.53 253.68,75.88 255,77.6C256.32,79.32 257.65,81.78 258.7,83.6C259.75,85.42 260.58,87.02 261.3,88.5C262.02,89.98 262.27,90.75 263,92.5C263.73,94.25 264.75,96.82 265.7,99C266.65,101.18 267.82,104.85 268.7,105.6C269.58,106.35 270.23,104.97 271,103.5C271.77,102.03 272.63,98.63 273.3,96.8C273.97,94.97 274.38,93.88 275,92.5C275.62,91.12 276.03,89.92 277,88.5C277.97,87.08 279.55,85.12 280.8,84C282.05,82.88 283.13,82.3 284.5,81.8C285.87,81.3 287.5,80.95 289,81C290.5,81.05 292,81.6 293.5,82.1C295,82.6 296.58,83.38 298,84C299.42,84.62 300.77,85.33 302,85.8C303.23,86.27 303.95,86.53 305.4,86.8C306.85,87.07 309.1,87.15 310.7,87.4C312.3,87.65 313.63,87.73 315,88.3C316.37,88.87 317.62,89.73 318.9,90.8C320.18,91.87 321.42,93.25 322.7,94.7C323.98,96.15 325.3,97.73 326.6,99.5C327.9,101.27 329.22,103.2 330.5,105.3C331.78,107.4 333.08,110.22 334.3,112.1C335.52,113.98 336.92,115.17 337.8,116.6C338.68,118.03 339.03,119.57 339.6,120.7C340.17,121.83 340.63,122.75 341.2,123.4C341.77,124.05 342.37,124.63 343,124.6C343.63,124.57 344.18,124.17 345,123.2C345.82,122.23 346.95,120.17 347.9,118.8C348.85,117.43 349.75,116.28 350.7,115C351.65,113.72 352.1,112.3 353.6,111.1C355.1,109.9 357.27,108.58 359.7,107.8C362.13,107.02 365.5,106.12 368.2,106.4C370.9,106.68 374.25,108.78 375.9,109.5C377.55,110.22 376.67,109.33 378.1,110.7C379.53,112.07 382.48,115.12 384.5,117.7C386.52,120.28 388.4,123.83 390.2,126.2C392,128.57 393.65,132.13 395.3,131.9C396.95,131.67 398.37,127.63 400.1,124.8C401.83,121.97 403.58,117.97 405.7,114.9C407.82,111.83 410.68,108.52 412.8,106.4C414.92,104.28 416.03,103.62 418.4,102.2C420.77,100.78 424.15,98.95 427,97.9C429.85,96.85 433.33,96.25 435.5,95.9C437.67,95.55 437.77,95.78 440,95.8C442.23,95.82 445.95,95.82 448.9,96C451.85,96.18 454.75,96.48 457.7,96.9C460.65,97.32 463.63,97.93 466.6,98.5C469.57,99.07 472.83,99.92 475.5,100.3C478.17,100.68 480.23,100.93 482.6,100.8C484.97,100.67 487.05,100.45 489.7,99.5C492.35,98.55 495.95,96.3 498.5,95.1C501.05,93.9 502.92,93.18 505,92.3C507.08,91.42 508.53,90.8 511,89.8C513.47,88.8 516.85,87.23 519.8,86.3C522.75,85.37 525.45,84.85 528.7,84.2C531.95,83.55 537.53,82.7 539.3,82.4" stroke="#d9531a"/>
</g>
<circle cx="337.8" cy="50.6" r="3.95" fill="none" stroke="#0f5bff" stroke-width="1.85"/>
<circle cx="378.1" cy="49.8" r="3.95" fill="none" stroke="#0f5bff" stroke-width="1.85"/>
<circle cx="418.4" cy="52" r="3.95" fill="none" stroke="#0f5bff" stroke-width="1.85"/>
<circle cx="337.8" cy="116.3" r="3.95" fill="none" stroke="#d9531a" stroke-width="1.85"/>
<circle cx="378.1" cy="110.6" r="3.95" fill="none" stroke="#d9531a" stroke-width="1.85"/>
<circle cx="418.4" cy="102.2" r="3.95" fill="none" stroke="#d9531a" stroke-width="1.85"/>
<line x1="216.9" y1="21" x2="539.3" y2="21" stroke="#262626" stroke-width="1.05"/>
<line x1="216.9" y1="151.3" x2="539.3" y2="151.3" stroke="#262626" stroke-width="1.05"/>
<line x1="216.65" y1="20.5" x2="216.65" y2="151.8" stroke="#0f5bff" stroke-width="1.05"/>
<line x1="539.3" y1="20.5" x2="539.3" y2="151.8" stroke="#d9531a" stroke-width="1.1"/>
<line x1="297.5" y1="151.3" x2="297.5" y2="147.7" stroke="#262626" stroke-width="1"/>
<line x1="297.5" y1="21" x2="297.5" y2="24.6" stroke="#262626" stroke-width="1"/>
<line x1="378.1" y1="151.3" x2="378.1" y2="147.7" stroke="#262626" stroke-width="1"/>
<line x1="378.1" y1="21" x2="378.1" y2="24.6" stroke="#262626" stroke-width="1"/>
<line x1="458.7" y1="151.3" x2="458.7" y2="147.7" stroke="#262626" stroke-width="1"/>
<line x1="458.7" y1="21" x2="458.7" y2="24.6" stroke="#262626" stroke-width="1"/>
<line x1="216.9" y1="47.06" x2="220.5" y2="47.06" stroke="#0f5bff" stroke-width="1"/>
<text x="213.7" y="51.66" font-size="12.6" fill="#0f5bff" stroke="#0f5bff" stroke-width="0.3" text-anchor="end">0</text>
<line x1="216.9" y1="68.78" x2="220.5" y2="68.78" stroke="#0f5bff" stroke-width="1"/>
<text x="213.7" y="73.38" font-size="12.6" fill="#0f5bff" stroke="#0f5bff" stroke-width="0.3" text-anchor="end">-0.5</text>
<line x1="216.9" y1="90.49" x2="220.5" y2="90.49" stroke="#0f5bff" stroke-width="1"/>
<text x="213.7" y="95.09" font-size="12.6" fill="#0f5bff" stroke="#0f5bff" stroke-width="0.3" text-anchor="end">-1</text>
<line x1="216.9" y1="112.21" x2="220.5" y2="112.21" stroke="#0f5bff" stroke-width="1"/>
<text x="213.7" y="116.81" font-size="12.6" fill="#0f5bff" stroke="#0f5bff" stroke-width="0.3" text-anchor="end">-1.5</text>
<line x1="216.9" y1="133.93" x2="220.5" y2="133.93" stroke="#0f5bff" stroke-width="1"/>
<text x="213.7" y="138.53" font-size="12.6" fill="#0f5bff" stroke="#0f5bff" stroke-width="0.3" text-anchor="end">-2</text>
<line x1="539.3" y1="47.06" x2="535.7" y2="47.06" stroke="#d9531a" stroke-width="1"/>
<text x="542" y="51.66" font-size="12.6" fill="#d9531a" stroke="#d9531a" stroke-width="0.3">0</text>
<line x1="539.3" y1="70.22" x2="535.7" y2="70.22" stroke="#d9531a" stroke-width="1"/>
<text x="542" y="74.82" font-size="12.6" fill="#d9531a" stroke="#d9531a" stroke-width="0.3">-10</text>
<line x1="539.3" y1="93.39" x2="535.7" y2="93.39" stroke="#d9531a" stroke-width="1"/>
<text x="542" y="97.99" font-size="12.6" fill="#d9531a" stroke="#d9531a" stroke-width="0.3">-20</text>
<line x1="539.3" y1="116.55" x2="535.7" y2="116.55" stroke="#d9531a" stroke-width="1"/>
<text x="542" y="121.15" font-size="12.6" fill="#d9531a" stroke="#d9531a" stroke-width="0.3">-30</text>
<line x1="539.3" y1="139.72" x2="535.7" y2="139.72" stroke="#d9531a" stroke-width="1"/>
<text x="542" y="144.32" font-size="12.6" fill="#d9531a" stroke="#d9531a" stroke-width="0.3">-40</text>
<line x1="220.25" y1="184.26" x2="536.5" y2="184.26" stroke="#000" stroke-width="1.9" stroke-dasharray="1.7 2.92"/>
<g clip-path="url(#c1)" fill="none" stroke-width="2" stroke-linejoin="round" stroke-linecap="round">
<path d="M223.4,292C223.45,290.5 223.5,285.3 223.7,283C223.9,280.7 224.17,279.15 224.6,278.2C225.03,277.25 225.73,276.97 226.3,277.3C226.87,277.63 227.28,279.38 228,280.2C228.72,281.02 229.73,282.08 230.6,282.2C231.47,282.32 232.35,281.97 233.2,280.9C234.05,279.83 234.85,277.8 235.7,275.8C236.55,273.8 237.28,271.33 238.3,268.9C239.32,266.47 240.65,263.48 241.8,261.2C242.95,258.92 243.92,257.27 245.2,255.2C246.48,253.13 248.32,250.47 249.5,248.8C250.68,247.13 251.45,244.83 252.3,245.2C253.15,245.57 253.88,247.87 254.6,251C255.32,254.13 255.9,259.63 256.6,264C257.3,268.37 258.08,276.08 258.8,277.2C259.52,278.32 260.23,275.28 260.9,270.7C261.57,266.12 262.15,256.38 262.8,249.7C263.45,243.02 264.03,235.5 264.8,230.6C265.57,225.7 266.62,222.22 267.4,220.3C268.18,218.38 268.7,218.48 269.5,219.1C270.3,219.72 271.25,221.45 272.2,224C273.15,226.55 274.37,231.45 275.2,234.4C276.03,237.35 276.55,241.7 277.2,241.7C277.85,241.7 278.47,236.37 279.1,234.4C279.73,232.43 280.4,229.47 281,229.9C281.6,230.33 282.1,232.65 282.7,237C283.3,241.35 284.07,251.67 284.6,256C285.13,260.33 285.38,264 285.9,263C286.42,262 287.1,255.33 287.7,250C288.3,244.67 289.02,235.33 289.5,231C289.98,226.67 290.1,226.78 290.6,224C291.1,221.22 291.7,216.72 292.5,214.3C293.3,211.88 294.27,210.63 295.4,209.5C296.53,208.37 298,208.3 299.3,207.5C300.6,206.7 301.75,205.58 303.2,204.7C304.65,203.82 306.55,202.37 308,202.2C309.45,202.03 310.78,202.85 311.9,203.7C313.02,204.55 313.82,206.38 314.7,207.3C315.58,208.22 316.47,209.48 317.2,209.2C317.93,208.92 318.55,207.17 319.1,205.6C319.65,204.03 319.93,201.57 320.5,199.8C321.07,198.03 321.38,197.03 322.5,195C323.62,192.97 325.48,189.3 327.2,187.6C328.92,185.9 331.03,185.32 332.8,184.8C334.57,184.28 335.43,184.42 337.8,184.5C340.17,184.58 344.05,185.07 347,185.3C349.95,185.53 352.67,185.9 355.5,185.9C358.33,185.9 361.17,185.53 364,185.3C366.83,185.07 370.15,184.63 372.5,184.5C374.85,184.37 375.15,184.45 378.1,184.5C381.05,184.55 385.83,184.8 390.2,184.8C394.57,184.8 399.6,184.6 404.3,184.5C409,184.4 414.85,184.07 418.4,184.2C421.95,184.33 423.47,184.4 425.6,185.3C427.73,186.2 429.55,188.75 431.2,189.6C432.85,190.45 433.6,190.27 435.5,190.4C437.4,190.53 440.23,190.07 442.6,190.4C444.97,190.73 447.58,191.35 449.7,192.4C451.82,193.45 453.55,194.82 455.3,196.7C457.05,198.58 458.67,200.88 460.2,203.7C461.73,206.52 463.08,209.6 464.5,213.6C465.92,217.6 467.28,222.52 468.7,227.7C470.12,232.88 471.72,240.45 473,244.7C474.28,248.95 475.23,253.2 476.4,253.2C477.57,253.2 478.68,248.72 480,244.7C481.32,240.68 482.88,233.35 484.3,229.1C485.72,224.85 487.08,221.55 488.5,219.2C489.92,216.85 491.38,215.8 492.8,215C494.22,214.2 495.58,214.17 497,214.4C498.42,214.63 499.65,215.12 501.3,216.4C502.95,217.68 505.02,219.5 506.9,222.1C508.78,224.7 510.72,228.23 512.6,232C514.48,235.77 516.32,240.7 518.2,244.7C520.08,248.7 522.02,252.47 523.9,256C525.78,259.53 527.85,263.35 529.5,265.9C531.15,268.45 532.42,270.58 533.8,271.3C535.18,272.02 536.88,270.62 537.8,270.2C538.72,269.78 539.05,269.03 539.3,268.8" stroke="#0f5bff"/>
<path d="M216.9,223C217.23,224.17 218.1,228 218.9,230C219.7,232 220.75,233.3 221.7,235C222.65,236.7 223.83,237.75 224.6,240.2C225.37,242.65 225.8,245.88 226.3,249.7C226.8,253.52 227.17,257.97 227.6,263.1C228.03,268.23 228.48,280.35 228.9,280.5C229.32,280.65 229.7,269.13 230.1,264C230.5,258.87 230.62,254.15 231.3,249.7C231.98,245.25 233.08,240.33 234.2,237.3C235.32,234.27 236.73,233.1 238,231.5C239.27,229.9 240.37,229.28 241.8,227.7C243.23,226.12 245,223.58 246.6,222C248.2,220.42 250.13,219.48 251.4,218.2C252.67,216.92 253.35,215.67 254.2,214.3C255.05,212.93 255.7,210.58 256.5,210C257.3,209.42 258.1,209.75 259,210.8C259.9,211.85 260.93,214.28 261.9,216.3C262.87,218.32 263.85,220.73 264.8,222.9C265.75,225.07 266.65,227.57 267.6,229.3C268.55,231.03 269.53,232.48 270.5,233.3C271.47,234.12 272.45,234.82 273.4,234.2C274.35,233.58 275.1,230.83 276.2,229.6C277.3,228.37 278.88,227.8 280,226.8C281.12,225.8 282.1,224.98 282.9,223.6C283.7,222.22 284.1,219.85 284.8,218.5C285.5,217.15 286.3,215.72 287.1,215.5C287.9,215.28 288.7,216.43 289.6,217.2C290.5,217.97 291.68,219.45 292.5,220.1C293.32,220.75 293.37,220.45 294.5,221.1C295.63,221.75 297.7,223.03 299.3,224C300.9,224.97 302.48,225.78 304.1,226.9C305.72,228.02 307.55,229.82 309,230.7C310.45,231.58 311.75,232 312.8,232.2C313.85,232.4 314.5,232.05 315.3,231.9C316.1,231.75 316.73,231.08 317.6,231.3C318.47,231.52 319.53,232.17 320.5,233.2C321.47,234.23 322.6,236.03 323.4,237.5C324.2,238.97 324.62,240.05 325.3,242C325.98,243.95 326.57,246.28 327.5,249.2C328.43,252.12 329.75,255.3 330.9,259.5C332.05,263.7 333.47,270.15 334.4,274.4C335.33,278.65 336,282.48 336.5,285C337,287.52 336.98,289.73 337.4,289.5C337.82,289.27 338.27,286.12 339,283.6C339.73,281.08 340.75,276.78 341.8,274.4C342.85,272.02 344.05,270.43 345.3,269.3C346.55,268.17 348.07,267.8 349.3,267.6C350.53,267.4 351.55,267.63 352.7,268.1C353.85,268.57 354.95,269.15 356.2,270.4C357.45,271.65 358.97,274.13 360.2,275.6C361.43,277.07 362.55,278.58 363.6,279.2C364.65,279.82 365.43,279.62 366.5,279.3C367.57,278.98 368.85,277.82 370,277.3C371.15,276.78 372.05,276.2 373.4,276.2C374.75,276.2 376.25,278.28 378.1,277.3C379.95,276.32 382.48,272.1 384.5,270.3C386.52,268.5 388.45,267.27 390.2,266.5C391.95,265.73 393.63,265.8 395,265.7C396.37,265.6 397.07,265.4 398.4,265.9C399.73,266.4 401.47,267.47 403,268.7C404.53,269.93 406.07,271.58 407.6,273.3C409.13,275.02 410.85,277.38 412.2,279C413.55,280.62 414.67,281.95 415.7,283C416.73,284.05 417.43,283.8 418.4,285.3C419.37,286.8 420.48,289.55 421.5,292C422.52,294.45 423.7,300 424.5,300C425.3,300 425.67,296.27 426.3,292C426.93,287.73 427.68,279.23 428.3,274.4C428.92,269.57 429.33,266.25 430,263C430.67,259.75 431.43,257.02 432.3,254.9C433.17,252.78 433.77,251.92 435.2,250.3C436.63,248.68 438.9,246.83 440.9,245.2C442.9,243.57 445.35,241.95 447.2,240.5C449.05,239.05 450.53,237.83 452,236.5C453.47,235.17 454.38,233.97 456,232.5C457.62,231.03 459.82,229.2 461.7,227.7C463.58,226.2 465.42,224.62 467.3,223.5C469.18,222.38 471.35,221 473,221C474.65,221 475.78,221.9 477.2,223.5C478.62,225.1 480.08,227.53 481.5,230.6C482.92,233.67 484.42,238.17 485.7,241.9C486.98,245.63 488.25,250.55 489.2,253C490.15,255.45 490.57,257.03 491.4,256.6C492.23,256.17 493.03,253.08 494.2,250.4C495.37,247.72 496.75,243.57 498.4,240.5C500.05,237.43 502.22,234.6 504.1,232C505.98,229.4 507.58,227.12 509.7,224.9C511.82,222.68 514.43,220.45 516.8,218.7C519.17,216.95 521.53,215.48 523.9,214.4C526.27,213.32 528.43,212.73 531,212.2C533.57,211.67 537.92,211.37 539.3,211.2" stroke="#d9531a"/>
</g>
<circle cx="337.8" cy="184.5" r="3.95" fill="none" stroke="#0f5bff" stroke-width="1.85"/>
<circle cx="378.1" cy="184.5" r="3.95" fill="none" stroke="#0f5bff" stroke-width="1.85"/>
<circle cx="418.4" cy="184.3" r="3.95" fill="none" stroke="#0f5bff" stroke-width="1.85"/>
<circle cx="378.1" cy="277.3" r="3.95" fill="none" stroke="#d9531a" stroke-width="1.85"/>
<circle cx="418.4" cy="285.3" r="3.95" fill="none" stroke="#d9531a" stroke-width="1.85"/>
<line x1="216.9" y1="158.2" x2="539.3" y2="158.2" stroke="#262626" stroke-width="1.05"/>
<line x1="216.9" y1="288.3" x2="539.3" y2="288.3" stroke="#262626" stroke-width="1.05"/>
<line x1="216.65" y1="157.7" x2="216.65" y2="288.8" stroke="#0f5bff" stroke-width="1.05"/>
<line x1="539.3" y1="157.7" x2="539.3" y2="288.8" stroke="#d9531a" stroke-width="1.1"/>
<line x1="297.5" y1="288.3" x2="297.5" y2="284.7" stroke="#262626" stroke-width="1"/>
<line x1="297.5" y1="158.2" x2="297.5" y2="161.8" stroke="#262626" stroke-width="1"/>
<line x1="378.1" y1="288.3" x2="378.1" y2="284.7" stroke="#262626" stroke-width="1"/>
<line x1="378.1" y1="158.2" x2="378.1" y2="161.8" stroke="#262626" stroke-width="1"/>
<line x1="458.7" y1="288.3" x2="458.7" y2="284.7" stroke="#262626" stroke-width="1"/>
<line x1="458.7" y1="158.2" x2="458.7" y2="161.8" stroke="#262626" stroke-width="1"/>
<line x1="216.9" y1="184.26" x2="220.5" y2="184.26" stroke="#0f5bff" stroke-width="1"/>
<text x="213.7" y="188.86" font-size="12.6" fill="#0f5bff" stroke="#0f5bff" stroke-width="0.3" text-anchor="end">0</text>
<line x1="216.9" y1="205.98" x2="220.5" y2="205.98" stroke="#0f5bff" stroke-width="1"/>
<text x="213.7" y="210.58" font-size="12.6" fill="#0f5bff" stroke="#0f5bff" stroke-width="0.3" text-anchor="end">-0.5</text>
<line x1="216.9" y1="227.69" x2="220.5" y2="227.69" stroke="#0f5bff" stroke-width="1"/>
<text x="213.7" y="232.29" font-size="12.6" fill="#0f5bff" stroke="#0f5bff" stroke-width="0.3" text-anchor="end">-1</text>
<line x1="216.9" y1="249.41" x2="220.5" y2="249.41" stroke="#0f5bff" stroke-width="1"/>
<text x="213.7" y="254.01" font-size="12.6" fill="#0f5bff" stroke="#0f5bff" stroke-width="0.3" text-anchor="end">-1.5</text>
<line x1="216.9" y1="271.13" x2="220.5" y2="271.13" stroke="#0f5bff" stroke-width="1"/>
<text x="213.7" y="275.73" font-size="12.6" fill="#0f5bff" stroke="#0f5bff" stroke-width="0.3" text-anchor="end">-2</text>
<line x1="539.3" y1="184.26" x2="535.7" y2="184.26" stroke="#d9531a" stroke-width="1"/>
<text x="542" y="188.86" font-size="12.6" fill="#d9531a" stroke="#d9531a" stroke-width="0.3">0</text>
<line x1="539.3" y1="207.42" x2="535.7" y2="207.42" stroke="#d9531a" stroke-width="1"/>
<text x="542" y="212.02" font-size="12.6" fill="#d9531a" stroke="#d9531a" stroke-width="0.3">-10</text>
<line x1="539.3" y1="230.59" x2="535.7" y2="230.59" stroke="#d9531a" stroke-width="1"/>
<text x="542" y="235.19" font-size="12.6" fill="#d9531a" stroke="#d9531a" stroke-width="0.3">-20</text>
<line x1="539.3" y1="253.75" x2="535.7" y2="253.75" stroke="#d9531a" stroke-width="1"/>
<text x="542" y="258.35" font-size="12.6" fill="#d9531a" stroke="#d9531a" stroke-width="0.3">-30</text>
<line x1="539.3" y1="276.92" x2="535.7" y2="276.92" stroke="#d9531a" stroke-width="1"/>
<text x="542" y="281.52" font-size="12.6" fill="#d9531a" stroke="#d9531a" stroke-width="0.3">-40</text>
<line x1="220.25" y1="321.46" x2="536.5" y2="321.46" stroke="#000" stroke-width="1.9" stroke-dasharray="1.7 2.92"/>
<g clip-path="url(#c2)" fill="none" stroke-width="2" stroke-linejoin="round" stroke-linecap="round">
<path d="M222.8,432C222.93,429.17 223.27,419.67 223.6,415C223.93,410.33 224.3,406.73 224.8,404C225.3,401.27 226,399.18 226.6,398.6C227.2,398.02 227.87,399.6 228.4,400.5C228.93,401.4 229.32,402.42 229.8,404C230.28,405.58 230.82,407.77 231.3,410C231.78,412.23 232.25,414.95 232.7,417.4C233.15,419.85 233.53,422.27 234,424.7C234.47,427.13 234.3,430.78 235.5,432C236.7,433.22 239.67,437.32 241.2,432C242.73,426.68 243.8,407.02 244.7,400.1C245.6,393.18 245.97,391.52 246.6,390.5C247.23,389.48 247.87,391.77 248.5,394C249.13,396.23 249.77,400.57 250.4,403.9C251.03,407.23 251.72,415.32 252.3,414C252.88,412.68 253.25,403.1 253.9,396C254.55,388.9 255.35,377.42 256.2,371.4C257.05,365.38 257.9,363.57 259,359.9C260.1,356.23 261.52,352.1 262.8,349.4C264.08,346.7 265.42,344.33 266.7,343.7C267.98,343.07 269.23,344.65 270.5,345.6C271.77,346.55 273.03,348.38 274.3,349.4C275.57,350.42 276.82,352.17 278.1,351.7C279.38,351.23 280.72,348.57 282,346.6C283.28,344.63 284.63,341.83 285.8,339.9C286.97,337.97 288.05,336.02 289,335C289.95,333.98 290.75,333.72 291.5,333.8C292.25,333.88 292.7,334.3 293.5,335.5C294.3,336.7 295.18,339.5 296.3,341C297.42,342.5 298.9,344.58 300.2,344.5C301.5,344.42 302.67,341.82 304.1,340.5C305.53,339.18 307.5,337.45 308.8,336.6C310.1,335.75 310.98,335.43 311.9,335.4C312.82,335.37 313.52,336.72 314.3,336.4C315.08,336.08 315.82,334.77 316.6,333.5C317.38,332.23 318.22,329.8 319,328.8C319.78,327.8 320.53,327.4 321.3,327.5C322.07,327.6 322.82,328.95 323.6,329.4C324.38,329.85 325.08,330.57 326,330.2C326.92,329.83 328.05,328.27 329.1,327.2C330.15,326.13 330.85,324.58 332.3,323.8C333.75,323.02 335.98,322.5 337.8,322.5C339.62,322.5 341.25,323.48 343.2,323.8C345.15,324.12 347.42,324.22 349.5,324.4C351.58,324.58 353.62,324.87 355.7,324.9C357.78,324.93 360.17,324.87 362,324.6C363.83,324.33 365.13,323.7 366.7,323.3C368.27,322.9 369.5,322.37 371.4,322.2C373.3,322.03 375.45,322.05 378.1,322.3C380.75,322.55 384.35,323.32 387.3,323.7C390.25,324.08 392.97,324.55 395.8,324.6C398.63,324.65 401.47,324.38 404.3,324C407.13,323.62 410.45,322.58 412.8,322.3C415.15,322.02 416.5,321.92 418.4,322.3C420.3,322.68 422.3,323.98 424.2,324.6C426.1,325.22 427.68,325.67 429.8,326C431.92,326.33 434.53,326.27 436.9,326.6C439.27,326.93 441.63,327.3 444,328C446.37,328.7 449.1,329.87 451.1,330.8C453.1,331.73 454.48,332.67 456,333.6C457.52,334.53 458.78,334.75 460.2,336.4C461.62,338.05 463.08,340.9 464.5,343.5C465.92,346.1 467.38,349.4 468.7,352C470.02,354.6 471.22,358.63 472.4,359.1C473.58,359.57 474.53,357.17 475.8,354.8C477.07,352.43 478.58,347.48 480,344.9C481.42,342.32 482.65,340.72 484.3,339.3C485.95,337.88 488.25,336.92 489.9,336.4C491.55,335.88 492.78,335.85 494.2,336.2C495.62,336.55 497.13,337.2 498.4,338.5C499.67,339.8 500.52,341.12 501.8,344C503.08,346.88 504.85,350.97 506.1,355.8C507.35,360.63 508.22,367.63 509.3,373C510.38,378.37 511.7,384.78 512.6,388C513.5,391.22 513.98,392.3 514.7,392.3C515.42,392.3 516,390.87 516.9,388C517.8,385.13 518.85,379.4 520.1,375.1C521.35,370.8 522.8,365.95 524.4,362.2C526,358.45 527.92,355.1 529.7,352.6C531.48,350.1 533.5,348.47 535.1,347.2C536.7,345.93 538.6,345.37 539.3,345" stroke="#0f5bff"/>
<path d="M216.9,363C217.38,362.37 218.83,359.53 219.8,359.2C220.77,358.87 221.9,359.28 222.7,361C223.5,362.72 223.97,366.17 224.6,369.5C225.23,372.83 225.87,377.82 226.5,381C227.13,384.18 227.6,388.6 228.4,388.6C229.2,388.6 230.33,383.38 231.3,381C232.27,378.62 233.08,376.53 234.2,374.3C235.32,372.07 236.88,370 238,367.6C239.12,365.2 240.05,361.62 240.9,359.9C241.75,358.18 242.32,357.3 243.1,357.3C243.88,357.3 244.87,358.18 245.6,359.9C246.33,361.62 246.88,363.45 247.5,367.6C248.12,371.75 248.75,377.63 249.3,384.8C249.85,391.97 250.3,409 250.8,410.6C251.3,412.2 251.82,400.3 252.3,394.4C252.78,388.5 253.22,379.18 253.7,375.2C254.18,371.22 254.63,371.03 255.2,370.5C255.77,369.97 256.15,372.33 257.1,372C258.05,371.67 259.47,369.55 260.9,368.5C262.33,367.45 264.27,366.02 265.7,365.7C267.13,365.38 268.22,365.8 269.5,366.6C270.78,367.4 272.12,368.73 273.4,370.5C274.68,372.27 276.1,374.88 277.2,377.2C278.3,379.52 279.2,382.88 280,384.4C280.8,385.92 281.2,386.55 282,386.3C282.8,386.05 283.68,384.58 284.8,382.9C285.92,381.22 287.42,378.35 288.7,376.2C289.98,374.05 291.23,371.77 292.5,370C293.77,368.23 295.15,366.48 296.3,365.6C297.45,364.72 298.37,364.52 299.4,364.7C300.43,364.88 301.33,365.72 302.5,366.7C303.67,367.68 305.1,369.17 306.4,370.6C307.7,372.03 309.12,374.25 310.3,375.3C311.48,376.35 312.45,376.9 313.5,376.9C314.55,376.9 315.68,374.78 316.6,375.3C317.52,375.82 317.95,378.03 319,380C320.05,381.97 321.87,385.78 322.9,387.1C323.93,388.42 324.42,388.3 325.2,387.9C325.98,387.5 326.68,384.83 327.6,384.7C328.52,384.57 329.67,386.05 330.7,387.1C331.73,388.15 332.62,390.08 333.8,391C334.98,391.92 336.5,392.73 337.8,392.6C339.1,392.47 339.92,390.98 341.6,390.2C343.28,389.42 345.8,388.33 347.9,387.9C350,387.47 352.12,387.4 354.2,387.6C356.28,387.8 358.32,388.58 360.4,389.1C362.48,389.62 364.87,390 366.7,390.7C368.53,391.4 369.97,392.2 371.4,393.3C372.83,394.4 374.18,396.15 375.3,397.3C376.42,398.45 377.02,398.93 378.1,400.2C379.18,401.47 380.53,403.82 381.8,404.9C383.07,405.98 384.4,406.65 385.7,406.7C387,406.75 388.28,405.63 389.6,405.2C390.92,404.77 392.28,403.77 393.6,404.1C394.92,404.43 396.2,405.38 397.5,407.2C398.8,409.02 400.1,412.57 401.4,415C402.7,417.43 404.13,421.4 405.3,421.8C406.47,422.2 407.1,419.57 408.4,417.4C409.7,415.23 411.43,411.53 413.1,408.8C414.77,406.07 416.57,403.22 418.4,401C420.23,398.78 422.37,397.47 424.1,395.5C425.83,393.53 427.1,391.28 428.8,389.2C430.5,387.12 432.48,384.57 434.3,383C436.12,381.43 437.75,380.38 439.7,379.8C441.65,379.22 443.92,379.28 446,379.5C448.08,379.72 450.12,380.65 452.2,381.1C454.28,381.55 456.68,381.95 458.5,382.2C460.32,382.45 461.4,381.73 463.1,382.6C464.8,383.47 467.05,384.72 468.7,387.4C470.35,390.08 471.82,394.93 473,398.7C474.18,402.47 475.1,407.18 475.8,410C476.5,412.82 476.5,416.55 477.2,415.6C477.9,414.65 478.82,408.4 480,404.3C481.18,400.2 482.65,395 484.3,391C485.95,387 488.05,383.22 489.9,380.3C491.75,377.38 493.6,375.55 495.4,373.5C497.2,371.45 498.92,369.67 500.7,368C502.48,366.33 504.67,364.43 506.1,363.5C507.53,362.57 508.22,362.25 509.3,362.4C510.38,362.55 511.33,362.82 512.6,364.4C513.87,365.98 515.48,368.68 516.9,371.9C518.32,375.12 519.85,379.58 521.1,383.7C522.35,387.82 523.42,391.95 524.4,396.6C525.38,401.25 526.35,406.7 527,411.6C527.65,416.5 527.97,421.93 528.3,426C528.63,430.07 528.72,434.33 529,436C529.28,437.67 529.7,437.92 530,436C530.3,434.08 530.48,428.57 530.8,424.5C531.12,420.43 531.37,415.53 531.9,411.6C532.43,407.67 533.18,403.93 534,400.9C534.82,397.87 535.92,395.38 536.8,393.4C537.68,391.42 538.88,389.73 539.3,389" stroke="#d9531a"/>
</g>
<circle cx="337.8" cy="322.5" r="3.95" fill="none" stroke="#0f5bff" stroke-width="1.85"/>
<circle cx="378.1" cy="322.3" r="3.95" fill="none" stroke="#0f5bff" stroke-width="1.85"/>
<circle cx="418.4" cy="322.3" r="3.95" fill="none" stroke="#0f5bff" stroke-width="1.85"/>
<circle cx="337.8" cy="392.6" r="3.95" fill="none" stroke="#d9531a" stroke-width="1.85"/>
<circle cx="378.1" cy="400.2" r="3.95" fill="none" stroke="#d9531a" stroke-width="1.85"/>
<circle cx="418.4" cy="401" r="3.95" fill="none" stroke="#d9531a" stroke-width="1.85"/>
<line x1="216.9" y1="295.3" x2="539.3" y2="295.3" stroke="#262626" stroke-width="1.05"/>
<line x1="216.9" y1="425.2" x2="539.3" y2="425.2" stroke="#262626" stroke-width="1.05"/>
<line x1="216.65" y1="294.8" x2="216.65" y2="425.7" stroke="#0f5bff" stroke-width="1.05"/>
<line x1="539.3" y1="294.8" x2="539.3" y2="425.7" stroke="#d9531a" stroke-width="1.1"/>
<line x1="297.5" y1="425.2" x2="297.5" y2="421.6" stroke="#262626" stroke-width="1"/>
<line x1="297.5" y1="295.3" x2="297.5" y2="298.9" stroke="#262626" stroke-width="1"/>
<line x1="378.1" y1="425.2" x2="378.1" y2="421.6" stroke="#262626" stroke-width="1"/>
<line x1="378.1" y1="295.3" x2="378.1" y2="298.9" stroke="#262626" stroke-width="1"/>
<line x1="458.7" y1="425.2" x2="458.7" y2="421.6" stroke="#262626" stroke-width="1"/>
<line x1="458.7" y1="295.3" x2="458.7" y2="298.9" stroke="#262626" stroke-width="1"/>
<line x1="216.9" y1="321.46" x2="220.5" y2="321.46" stroke="#0f5bff" stroke-width="1"/>
<text x="213.7" y="326.06" font-size="12.6" fill="#0f5bff" stroke="#0f5bff" stroke-width="0.3" text-anchor="end">0</text>
<line x1="216.9" y1="343.18" x2="220.5" y2="343.18" stroke="#0f5bff" stroke-width="1"/>
<text x="213.7" y="347.78" font-size="12.6" fill="#0f5bff" stroke="#0f5bff" stroke-width="0.3" text-anchor="end">-0.5</text>
<line x1="216.9" y1="364.89" x2="220.5" y2="364.89" stroke="#0f5bff" stroke-width="1"/>
<text x="213.7" y="369.49" font-size="12.6" fill="#0f5bff" stroke="#0f5bff" stroke-width="0.3" text-anchor="end">-1</text>
<line x1="216.9" y1="386.61" x2="220.5" y2="386.61" stroke="#0f5bff" stroke-width="1"/>
<text x="213.7" y="391.21" font-size="12.6" fill="#0f5bff" stroke="#0f5bff" stroke-width="0.3" text-anchor="end">-1.5</text>
<line x1="216.9" y1="408.33" x2="220.5" y2="408.33" stroke="#0f5bff" stroke-width="1"/>
<text x="213.7" y="412.93" font-size="12.6" fill="#0f5bff" stroke="#0f5bff" stroke-width="0.3" text-anchor="end">-2</text>
<line x1="539.3" y1="321.46" x2="535.7" y2="321.46" stroke="#d9531a" stroke-width="1"/>
<text x="542" y="326.06" font-size="12.6" fill="#d9531a" stroke="#d9531a" stroke-width="0.3">0</text>
<line x1="539.3" y1="344.62" x2="535.7" y2="344.62" stroke="#d9531a" stroke-width="1"/>
<text x="542" y="349.22" font-size="12.6" fill="#d9531a" stroke="#d9531a" stroke-width="0.3">-10</text>
<line x1="539.3" y1="367.79" x2="535.7" y2="367.79" stroke="#d9531a" stroke-width="1"/>
<text x="542" y="372.39" font-size="12.6" fill="#d9531a" stroke="#d9531a" stroke-width="0.3">-20</text>
<line x1="539.3" y1="390.95" x2="535.7" y2="390.95" stroke="#d9531a" stroke-width="1"/>
<text x="542" y="395.55" font-size="12.6" fill="#d9531a" stroke="#d9531a" stroke-width="0.3">-30</text>
<line x1="539.3" y1="414.12" x2="535.7" y2="414.12" stroke="#d9531a" stroke-width="1"/>
<text x="542" y="418.72" font-size="12.6" fill="#d9531a" stroke="#d9531a" stroke-width="0.3">-40</text>
<text x="216.9" y="438.9" font-size="12.6" fill="#262626" text-anchor="middle">1150</text>
<text x="297.5" y="438.9" font-size="12.6" fill="#262626" text-anchor="middle">1350</text>
<text x="378.1" y="438.9" font-size="12.6" fill="#262626" text-anchor="middle">1550</text>
<text x="458.7" y="438.9" font-size="12.6" fill="#262626" text-anchor="middle">1750</text>
<text x="539.3" y="438.9" font-size="12.6" fill="#262626" text-anchor="middle">1950</text>
<text x="312.3" y="457.3" font-size="14.2" fill="#262626" stroke="#262626" stroke-width="0.2" textLength="132" lengthAdjust="spacing">Wavelength, <tspan font-style="italic">λ</tspan> (nm)</text>
<text transform="translate(187.2,295.6) rotate(-90)" font-size="14.2" fill="#0f5bff" stroke="#0f5bff" stroke-width="0.2" textLength="140" lengthAdjust="spacing">Excess loss, <tspan font-style="italic">EL</tspan> (dB)</text>
<text transform="translate(563.6,153.2) rotate(90)" font-size="14.2" fill="#d9531a" stroke="#d9531a" stroke-width="0.2" textLength="137.5" lengthAdjust="spacing">Return loss, <tspan font-style="italic">RL</tspan> (dB)</text>
<line x1="264" y1="68.7" x2="286" y2="68.7" stroke="#0f5bff" stroke-width="1.5"/>
<path d="M260.2,68.7L265,65.9L265,71.5Z" fill="#0f5bff"/>
<line x1="469.9" y1="116.5" x2="492" y2="116.5" stroke="#d9531a" stroke-width="1.3"/>
<path d="M496,116.5L491.2,114.1L491.2,118.9Z" fill="#d9531a"/>
<path d="M504.3,28.8A3.5,3.5 0 0 0 499.1,33.4" fill="none" stroke="#0f5bff" stroke-width="2.25"/>
<path d="M504.3,28.8A3.5,3.5 0 0 1 499.1,33.4" fill="none" stroke="#d9531a" stroke-width="2.25"/>
<text x="511.6" y="33.8" font-size="13.5" font-style="italic" fill="#000">λ</text>
<text x="517.2" y="36" font-size="10.5" fill="#000">opt</text>
</svg>
</body></html>
